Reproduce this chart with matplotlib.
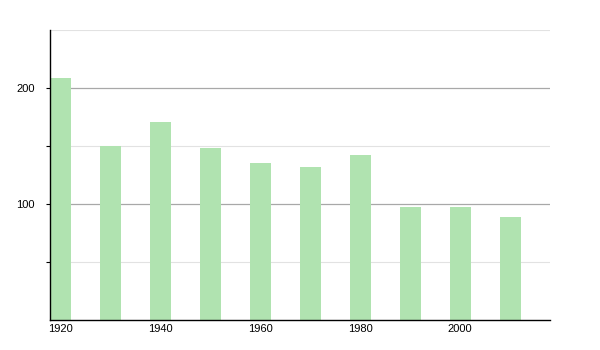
import matplotlib
matplotlib.use("Agg")
import matplotlib.pyplot as plt

years = [1920, 1930, 1940, 1950, 1960, 1970, 1980, 1990, 2000, 2010]
population = [209, 150, 171, 148, 135, 132, 142, 97, 97, 89]
xtick_years = [1920, 1940, 1960, 1980, 2000]
ytick_major = [100, 200]
ytick_minor = [50, 150]

plt.rcParams['font.family'] = ['Liberation Sans', 'DejaVu Sans']

fig = plt.figure(figsize=(6, 3.5), dpi=100)
ax = fig.add_axes([50/600, 1 - 320/350, 500/600, 290/350])

for y in [50, 150, 250]:
    ax.axhline(y, color='#e2e2e2', lw=0.8, zorder=0)
for y in ytick_major:
    ax.axhline(y, color='#a8a8a8', lw=0.9, zorder=0)

ax.bar(years, population, width=4.2, color='#b0e3b0', zorder=2)

ax.set_xlim(1918, 2018)
ax.set_ylim(0, 250)
ax.set_xticks(xtick_years)
ax.set_xticklabels([str(y) for y in xtick_years])
ax.set_yticks(ytick_major)
ax.set_yticks(ytick_minor, minor=True)
ax.tick_params(axis='x', length=0, pad=3, labelsize=8)
ax.tick_params(axis='y', which='major', length=3, width=0.8, pad=8, labelsize=8)
ax.tick_params(axis='y', which='minor', length=3, width=0.8)
for s in ['top', 'right']:
    ax.spines[s].set_visible(False)
ax.spines['left'].set_linewidth(1.0)
ax.spines['bottom'].set_linewidth(1.0)

fig.savefig('out.png', dpi=100)
